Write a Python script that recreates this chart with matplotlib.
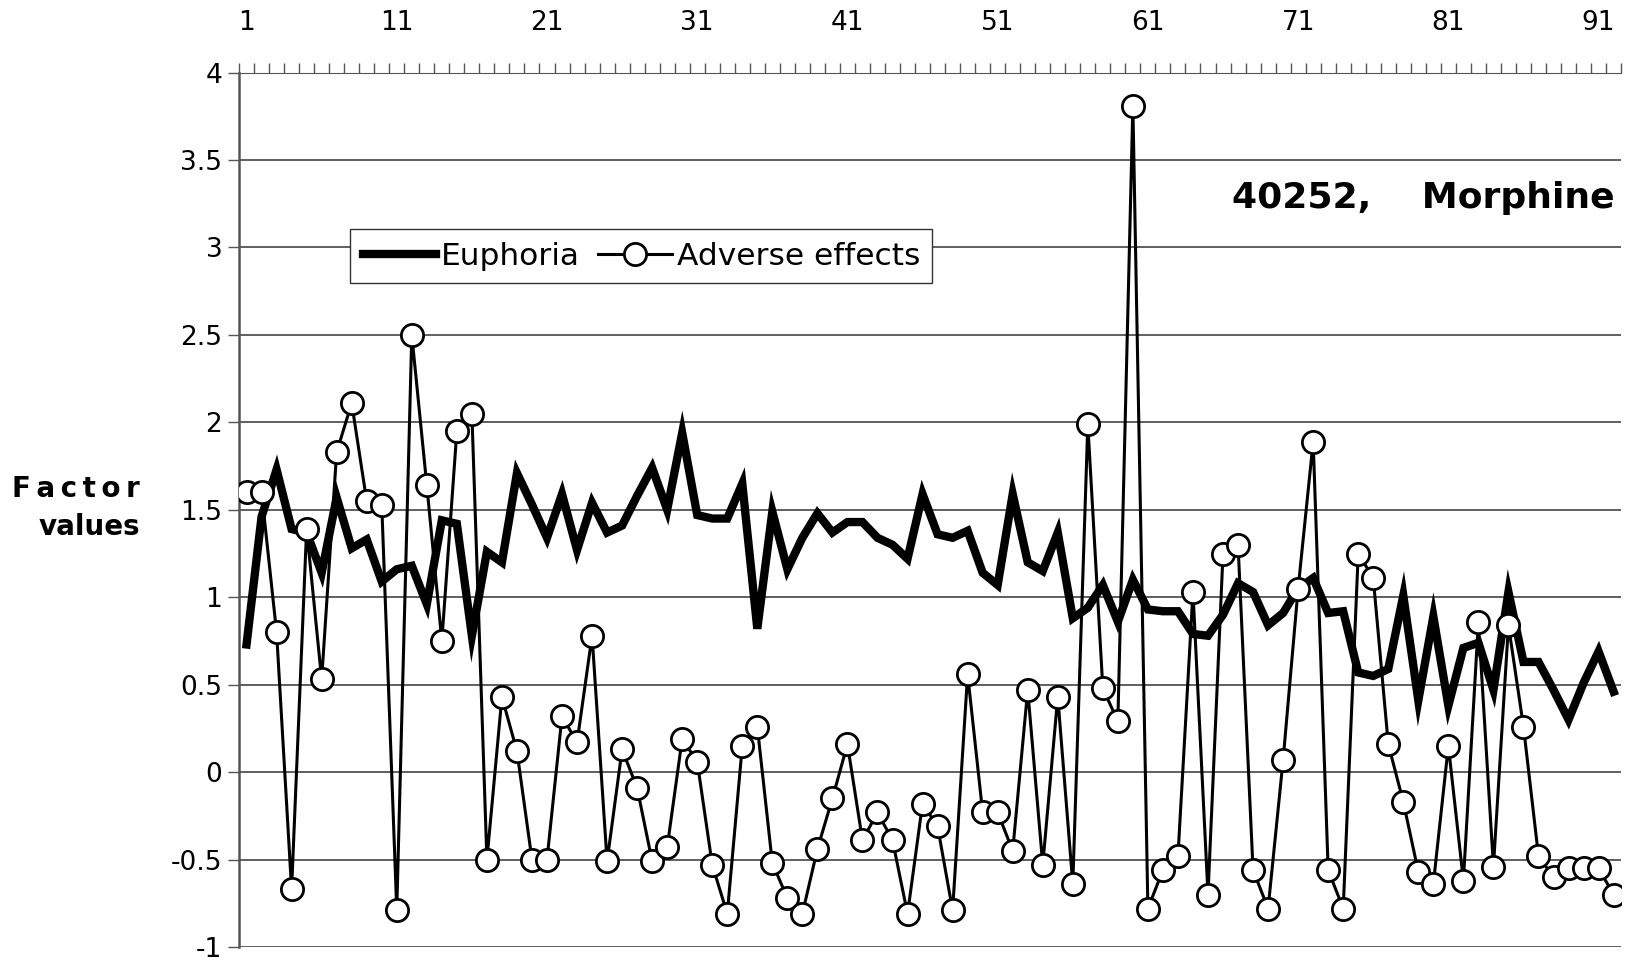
import numpy as np
import matplotlib.pyplot as plt

# subject index along the top axis
subjects = np.arange(1, 93)

euphoria = [0.73, 1.46, 1.73, 1.39, 1.37, 1.14, 1.57, 1.28, 1.33, 1.09,
            1.16, 1.18, 0.96, 1.44, 1.42, 0.78, 1.26, 1.20, 1.71, 1.53,
            1.34, 1.59, 1.27, 1.54, 1.37, 1.41, 1.58, 1.74, 1.50, 1.94,
            1.47, 1.45, 1.45, 1.65, 0.82, 1.49, 1.16, 1.34, 1.48, 1.37,
            1.43, 1.43, 1.34, 1.30, 1.22, 1.59, 1.36, 1.34, 1.38, 1.14,
            1.07, 1.59, 1.20, 1.15, 1.37, 0.88, 0.94, 1.07, 0.86, 1.10,
            0.93, 0.92, 0.92, 0.79, 0.78, 0.90, 1.08, 1.03, 0.84, 0.91,
            1.05, 1.11, 0.91, 0.92, 0.57, 0.55, 0.59, 1.01, 0.41, 0.89,
            0.38, 0.71, 0.74, 0.47, 1.03, 0.63, 0.63, 0.47, 0.30, 0.51,
            0.69, 0.46]

adverse = [1.60, 1.60, 0.80, -0.67, 1.39, 0.53, 1.83, 2.11, 1.55, 1.53,
           -0.79, 2.50, 1.64, 0.75, 1.95, 2.05, -0.50, 0.43, 0.12, -0.50,
           -0.50, 0.32, 0.17, 0.78, -0.51, 0.13, -0.09, -0.51, -0.43, 0.19,
           0.06, -0.53, -0.81, 0.15, 0.26, -0.52, -0.72, -0.81, -0.44, -0.15,
           0.16, -0.39, -0.23, -0.39, -0.81, -0.18, -0.31, -0.79, 0.56, -0.23,
           -0.23, -0.45, 0.47, -0.53, 0.43, -0.64, 1.99, 0.48, 0.29, 3.81,
           -0.78, -0.56, -0.48, 1.03, -0.70, 1.25, 1.30, -0.56, -0.78, 0.07,
           1.05, 1.89, -0.56, -0.78, 1.25, 1.11, 0.16, -0.17, -0.57, -0.64,
           0.15, -0.62, 0.86, -0.54, 0.84, 0.26, -0.48, -0.60, -0.55, -0.55,
           -0.55, -0.70]

top_ticks = [1, 11, 21, 31, 41, 51, 61, 71, 81, 91]
y_ticks = [4, 3.5, 3, 2.5, 2, 1.5, 1, 0.5, 0, -0.5, -1]
y_labels = ['4', '3.5', '3', '2.5', '2', '1.5', '1', '0.5', '0', '-0.5', '-1']

plt.rcParams['font.family'] = ['DejaVu Sans']

fig = plt.figure(figsize=(16.26, 9.63), dpi=100)
ax = fig.add_axes([0.147, 0.0166, 0.85, 0.908])

ax.plot(subjects, euphoria, color='black', lw=6, solid_joinstyle='miter',
        label='Euphoria', zorder=3)
ax.plot(subjects, adverse, color='black', lw=2.2, marker='o', ms=16,
        mfc='white', mec='black', mew=2, label='Adverse effects', zorder=4)

ax.set_xlim(0.5, 92.5)
ax.set_ylim(-1, 4)

# category axis on top, ticks between categories
ax.xaxis.tick_top()
ax.set_xticks(top_ticks)
ax.set_xticklabels([str(t) for t in top_ticks], fontsize=19)
ax.set_xticks(np.arange(0.5, 93, 1), minor=True)
ax.tick_params(axis='x', which='major', length=0, pad=26)
ax.tick_params(axis='x', which='minor', length=7, width=1, color='#555555',
               direction='out')

ax.set_yticks(y_ticks)
ax.set_yticklabels(y_labels, fontsize=19)
ax.tick_params(axis='y', length=8, width=1, color='#555555', pad=4)
ax.yaxis.grid(True, color='#444444', lw=1.2)
ax.set_axisbelow(True)

for side in ['right', 'bottom']:
    ax.spines[side].set_visible(False)
ax.spines['top'].set_color('#555555')
ax.spines['left'].set_color('#555555')
ax.spines['left'].set_linewidth(1.8)

# letter-spaced axis title, left of the value labels
fig.text(0.086, 0.4725, 'F\u2009a\u2009c\u2009t\u2009o\u2009r\nvalues',
         ha='right', va='center', multialignment='right', fontsize=20,
         fontweight='bold', linespacing=1.45)

ax.text(0.995, 0.857, '40252,    Morphine', transform=ax.transAxes,
        ha='right', va='center', fontsize=26, fontweight='bold')

leg = ax.legend(loc='upper left', bbox_to_anchor=(0.0803, 0.821),
                borderaxespad=0, ncol=2, fontsize=22.5, frameon=True,
                fancybox=False, edgecolor='#333333', framealpha=1,
                handlelength=2.35, handletextpad=0.15, columnspacing=0.6,
                borderpad=0.4)
leg.get_frame().set_linewidth(1)

fig.savefig('out.png', dpi=100)
